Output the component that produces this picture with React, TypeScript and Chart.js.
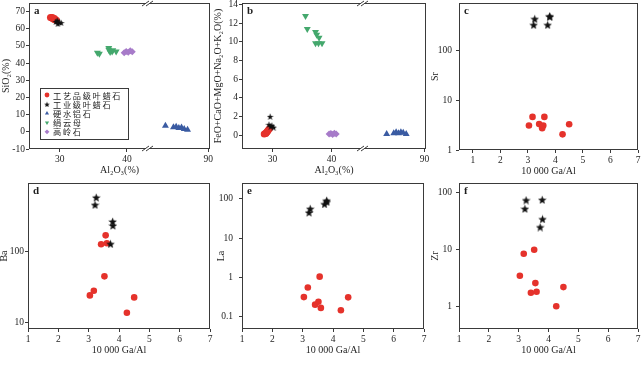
import React, { useEffect, useRef } from 'react';
import { Chart, registerables } from 'chart.js';
import { drawPoint } from 'chart.js/helpers';

Chart.register(...registerables);

// ---------------- text ----------------
const SERIES_NAMES = ['工艺品级叶蜡石', '工业级叶蜡石', '硬水铝石', '绢云母', '高岭石'];
const PANEL_LETTERS = ['a', 'b', 'c', 'd', 'e', 'f'];
const AL_TITLE = 'Al₂O₃(%)';
const SIO2_TITLE = 'SiO₂(%)';
const OX_TITLE = 'FeO+CaO+MgO+Na₂O+K₂O(%)';
const GA_TITLE = '10 000 Ga/Al';
const TRACE_TITLES = ['Sr', 'Ba', 'La', 'Zr'];

// ---------------- ticks ----------------
const AL_TICKS_LOW = [30, 40];
const AL_TICKS_HIGH = [90];
const SIO2_TICKS = [-10, 0, 10, 20, 30, 40, 50, 60, 70];
const OX_TICKS = [0, 2, 4, 6, 8, 10, 12, 14];
const GA_TICKS = [1, 2, 3, 4, 5, 6, 7];
const SR_TICKS = [1, 10, 100];
const BA_TICKS = [10, 100];
const LA_TICKS = [0.1, 1, 10, 100];
const ZR_TICKS = [1, 10, 100];

// ---------------- major elements (panels a, b) ----------------
const AL_CRAFT = [28.6, 28.8, 28.9, 29.0, 29.1, 29.2, 29.3, 29.5];
const SIO2_CRAFT = [66.5, 66.2, 66.6, 65.9, 65.5, 66.0, 65.2, 64.9];
const OX_CRAFT = [0.1, 0.15, 0.2, 0.3, 0.35, 0.45, 0.55, 0.7];

const AL_IND = [29.4, 29.6, 29.7, 29.9, 30.2];
const SIO2_IND = [64.2, 65.0, 63.0, 64.0, 63.6];
const OX_IND = [1.15, 2.0, 0.95, 1.05, 0.85];

const AL_DIA = [83.6, 84.8, 85.2, 85.6, 86.0, 86.4, 86.9];
const SIO2_DIA = [3.6, 2.6, 3.0, 2.2, 2.5, 1.6, 1.2];
const OX_DIA = [0.1, 0.2, 0.3, 0.2, 0.3, 0.25, 0.1];

const AL_SER = [35.6, 35.9, 37.3, 37.3, 37.5, 37.8, 37.9, 38.4];
const SIO2_SER = [46.0, 45.5, 48.8, 47.8, 46.5, 46.8, 47.5, 46.8];
const OX_SER = [12.75, 11.36, 11.04, 9.83, 10.75, 9.83, 10.43, 9.83];

const AL_KAO = [39.6, 39.9, 40.2, 40.5, 40.8];
const SIO2_KAO = [46.0, 46.8, 46.3, 47.2, 46.6];
const OX_KAO = [0.1, 0.15, 0.05, 0.2, 0.1];

// ---------------- trace elements (panels c-f) ----------------
const GA_CRAFT = [3.04, 3.17, 3.41, 3.52, 3.56, 3.6, 4.26, 4.5];
const SR_CRAFT = [3.1, 4.6, 3.3, 2.72, 3.08, 4.6, 2.06, 3.27];
const BA_CRAFT = [24, 27.9, 126, 44.5, 168, 130, 13.7, 22.5];
const LA_CRAFT = [0.32, 0.56, 0.206, 0.245, 1.06, 0.17, 0.148, 0.316];
const ZR_CRAFT = [3.48, 8.5, 1.74, 10, 2.58, 1.82, 1.01, 2.19];

const GA_IND = [3.21, 3.25, 3.72, 3.79, 3.8];
const SR_IND = [322, 425, 322, 481, 470];
const BA_IND = [454, 577, 128, 264, 232];
const LA_IND = [45.8, 56.8, 74.6, 92.5, 85];
const ZR_IND = [52.9, 75.2, 25.1, 76.3, 34.8];

// ---------------- style ----------------
const SERIF = '"Liberation Serif", "Times New Roman", serif';
const CJK = '"Noto Sans CJK SC", sans-serif';
const TEXT = '#1e1e1e';
const AXIS = '#3a3a3a';
const RED = '#e5322b';
const BLACK = '#111111';
const BLUE = '#3a5ba2';
const GREEN = '#44a86d';
const PURPLE = '#a77bc9';

const W = 643;
const H = 389;
const X_AXIS_H = 27;

type Rect = { L: number; T: number; R: number; B: number; yw: number; tickPad: number; titlePad: number };

const RECTS: Rect[] = [
  { L: 29, T: 3, R: 210, B: 149, yw: 29, tickPad: 1, titlePad: 0 },
  { L: 242, T: 3, R: 426, B: 149, yw: 30, tickPad: 1, titlePad: 0 },
  { L: 459, T: 3, R: 638, B: 150, yw: 30, tickPad: 4, titlePad: 0 },
  { L: 28, T: 183, R: 210, B: 329, yw: 28, tickPad: 1, titlePad: -2 },
  { L: 242, T: 183, R: 424, B: 329, yw: 27, tickPad: 6, titlePad: 0 },
  { L: 459, T: 183, R: 638, B: 329, yw: 30, tickPad: 4, titlePad: 0 },
];

function makeStar(size: number, color: string) {
  const c = document.createElement('canvas');
  c.width = size;
  c.height = size;
  const ctx = c.getContext('2d')!;
  const R = size / 2;
  const r = R * 0.42;
  ctx.beginPath();
  for (let i = 0; i < 10; i++) {
    const ang = -Math.PI / 2 + (i * Math.PI) / 5;
    const rad = i % 2 === 0 ? R : r;
    ctx.lineTo(R + rad * Math.cos(ang), R + 0.6 + rad * Math.sin(ang));
  }
  ctx.closePath();
  ctx.fillStyle = color;
  ctx.fill();
  return c;
}

const pts = (xs: number[], ys: number[]) => xs.map((x, i) => ({ x, y: ys[i] }));
const fixedTicks = (vals: number[]) => (s: any) => {
  s.ticks = vals.map((value) => ({ value }));
};
const gridOpts = () => ({
  display: true,
  drawOnChartArea: false,
  drawTicks: true,
  tickLength: 3,
  color: AXIS,
  lineWidth: 1,
});
const tickOpts = (pad: number) => ({
  font: { family: SERIF, size: 9.5 },
  color: TEXT,
  padding: pad,
  maxRotation: 0,
  autoSkip: false,
  callback: (v: any) => String(v),
});

function yAxis(type: string, min: number, max: number, ticks: number[], title: string, r: Rect) {
  return {
    type,
    position: 'left',
    min,
    max,
    border: { display: false },
    grid: gridOpts(),
    ticks: tickOpts(r.tickPad),
    afterBuildTicks: fixedTicks(ticks),
    title: {
      display: true,
      text: title,
      font: { family: SERIF, size: 10 },
      color: TEXT,
      padding: { top: r.titlePad, bottom: 0 },
    },
    afterFit: (s: any) => {
      s.width = r.yw;
      s.paddingTop = 0;
      s.paddingBottom = 0;
    },
  };
}

function gaAxis(min: number) {
  return {
    type: 'linear',
    position: 'bottom',
    min,
    max: 7,
    border: { display: false },
    grid: gridOpts(),
    ticks: tickOpts(2),
    afterBuildTicks: fixedTicks(GA_TICKS),
    title: { display: true, text: GA_TITLE, font: { family: SERIF, size: 10 }, color: TEXT, padding: 0 },
    afterFit: (s: any) => {
      s.height = X_AXIS_H;
      s.paddingLeft = 0;
      s.paddingRight = 0;
    },
  };
}

function brokenAxes(minLo: number, maxLo: number, minHi: number, maxHi: number, wLo: number, wHi: number) {
  const seg = (min: number, max: number, w: number, ticks: number[]) => ({
    type: 'linear',
    position: 'bottom',
    stack: 'al',
    stackWeight: w,
    min,
    max,
    border: { display: false },
    grid: gridOpts(),
    ticks: tickOpts(2),
    afterBuildTicks: fixedTicks(ticks),
    afterFit: (s: any) => {
      s.height = 14;
      s.paddingLeft = 0;
      s.paddingRight = 0;
    },
  });
  return {
    x: seg(minLo, maxLo, wLo, AL_TICKS_LOW),
    x2: seg(minHi, maxHi, wHi, AL_TICKS_HIGH),
    xt: {
      type: 'linear',
      position: 'bottom',
      weight: 1,
      min: 0,
      max: 1,
      border: { display: false },
      grid: { display: false },
      ticks: { display: false },
      title: { display: true, text: AL_TITLE, font: { family: SERIF, size: 10 }, color: TEXT, padding: 0 },
      afterFit: (s: any) => {
        s.height = X_AXIS_H - 14;
        s.paddingLeft = 0;
        s.paddingRight = 0;
      },
    },
  };
}

function ds(label: string, data: any[], style: any, color: string, radius: number, extra: any = {}) {
  return {
    label,
    data,
    xAxisID: 'x',
    yAxisID: 'y',
    pointStyle: style,
    pointRadius: radius,
    pointHoverRadius: radius,
    backgroundColor: color,
    borderColor: color,
    borderWidth: 0,
    ...extra,
  };
}

const decoPlugin = {
  id: 'deco',
  afterDraw(chart: any, _args: any, opts: any) {
    const { ctx, chartArea: ca } = chart;
    ctx.save();
    // frame
    ctx.strokeStyle = AXIS;
    ctx.lineWidth = 1;
    ctx.strokeRect(Math.round(ca.left) + 0.5, Math.round(ca.top) + 0.5, Math.round(ca.width) - 1, Math.round(ca.height) - 1);
    // axis break marks
    if (opts.brk) {
      const bx = Math.round(chart.scales.x.right);
      [Math.round(ca.top) + 0.5, Math.round(ca.bottom) - 0.5].forEach((yy: number) => {
        ctx.fillStyle = '#ffffff';
        ctx.fillRect(bx - 2, yy - 1.5, 4, 3);
        ctx.strokeStyle = AXIS;
        ctx.beginPath();
        ctx.moveTo(bx - 6, yy + 2.5);
        ctx.lineTo(bx + 1, yy - 2.5);
        ctx.moveTo(bx - 2, yy + 2.5);
        ctx.lineTo(bx + 5, yy - 2.5);
        ctx.stroke();
      });
    }
    // panel letter
    ctx.fillStyle = TEXT;
    ctx.font = `bold 11px ${SERIF}`;
    ctx.textAlign = 'left';
    ctx.textBaseline = 'middle';
    ctx.fillText(opts.letter, ca.left + 5, ca.top + 8);
    // legend
    if (opts.legend) {
      const lg = opts.legend;
      ctx.fillStyle = '#ffffff';
      ctx.fillRect(lg.x, lg.y, lg.w, lg.h);
      ctx.strokeStyle = AXIS;
      ctx.strokeRect(lg.x + 0.5, lg.y + 0.5, lg.w, lg.h);
      const smallStar = makeStar(6, BLACK);
      chart.data.datasets.forEach((d: any, i: number) => {
        const cy = lg.y + lg.first + i * lg.rowH;
        ctx.fillStyle = d.backgroundColor;
        const style = typeof d.pointStyle === 'string' ? d.pointStyle : smallStar;
        drawPoint(ctx, { pointStyle: style, rotation: d.pointRotation || 0, radius: 2.4, borderWidth: 0 }, lg.x + lg.markerDX, cy);
        ctx.fillStyle = TEXT;
        ctx.font = `8.2px ${CJK}`;
        ctx.textAlign = 'left';
        ctx.textBaseline = 'middle';
        if ('letterSpacing' in ctx) (ctx as any).letterSpacing = '1.7px';
        ctx.fillText(d.label, lg.x + lg.textDX, cy + 0.5);
        if ('letterSpacing' in ctx) (ctx as any).letterSpacing = '0px';
      });
    }
    ctx.restore();
  },
};

function baseOptions(r: Rect, scales: any, deco: any) {
  return {
    responsive: false,
    animation: false,
    devicePixelRatio: 1,
    events: [],
    layout: {
      autoPadding: false,
      padding: { left: r.L - r.yw, top: r.T, right: W - r.R, bottom: H - r.B - X_AXIS_H },
    },
    plugins: { legend: { display: false }, tooltip: { enabled: false }, deco },
    scales,
  };
}

function buildConfigs() {
  const starBig = makeStar(9, BLACK);
  const starSmall = makeStar(7, BLACK);
  const configs: any[] = [];

  // panel a
  {
    const r = RECTS[0];
    const datasets = [
      ds(SERIES_NAMES[0], pts(AL_CRAFT, SIO2_CRAFT), 'circle', RED, 3.5, { order: 1 }),
      ds(SERIES_NAMES[1], pts(AL_IND, SIO2_IND), starSmall, BLACK, 3.5, { order: 0 }),
      ds(SERIES_NAMES[2], pts(AL_DIA, SIO2_DIA), 'triangle', BLUE, 4, { xAxisID: 'x2', order: 2 }),
      ds(SERIES_NAMES[3], pts(AL_SER, SIO2_SER), 'triangle', GREEN, 4, { pointRotation: 180, order: 2 }),
      ds(SERIES_NAMES[4], pts(AL_KAO, SIO2_KAO), 'rectRot', PURPLE, 3.5, { order: 2 }),
    ];
    const scales = {
      ...brokenAxes(25.4, 43.15, 81.0, 90.25, 119, 62),
      y: yAxis('linear', -10, 75, SIO2_TICKS, SIO2_TITLE, r),
    };
    configs.push({
      type: 'scatter',
      data: { datasets },
      options: baseOptions(r, scales, {
        letter: PANEL_LETTERS[0],
        brk: true,
        legend: { x: 40, y: 88, w: 88, h: 51, first: 7, rowH: 9.2, markerDX: 7, textDX: 13 },
      }),
      plugins: [decoPlugin],
    });
  }

  // panel b
  {
    const r = RECTS[1];
    const datasets = [
      ds(SERIES_NAMES[0], pts(AL_CRAFT, OX_CRAFT), 'circle', RED, 3.5, { order: 1 }),
      ds(SERIES_NAMES[1], pts(AL_IND, OX_IND), starSmall, BLACK, 3.5, { order: 0 }),
      ds(SERIES_NAMES[2], pts(AL_DIA, OX_DIA), 'triangle', BLUE, 4, { xAxisID: 'x2', order: 2 }),
      ds(SERIES_NAMES[3], pts(AL_SER, OX_SER), 'triangle', GREEN, 4, { pointRotation: 180, order: 2 }),
      ds(SERIES_NAMES[4], pts(AL_KAO, OX_KAO), 'rectRot', PURPLE, 3.5, { order: 2 }),
    ];
    const scales = {
      ...brokenAxes(24.83, 45.4, 79.65, 90.25, 121.3, 62.7),
      y: yAxis('linear', -1.5, 14.15, OX_TICKS, OX_TITLE, r),
    };
    configs.push({
      type: 'scatter',
      data: { datasets },
      options: baseOptions(r, scales, { letter: PANEL_LETTERS[1], brk: true }),
      plugins: [decoPlugin],
    });
  }

  // panels c-f
  const trace = [
    { craft: SR_CRAFT, ind: SR_IND, ticks: SR_TICKS, min: 1, max: 880, xmin: 0.5 },
    { craft: BA_CRAFT, ind: BA_IND, ticks: BA_TICKS, min: 8.07, max: 918, xmin: 1 },
    { craft: LA_CRAFT, ind: LA_IND, ticks: LA_TICKS, min: 0.0495, max: 255, xmin: 1 },
    { craft: ZR_CRAFT, ind: ZR_IND, ticks: ZR_TICKS, min: 0.4, max: 150, xmin: 1 },
  ];
  trace.forEach((t, k) => {
    const r = RECTS[k + 2];
    const datasets = [
      ds(SERIES_NAMES[0], pts(GA_CRAFT, t.craft), 'circle', RED, 3.3, { order: 1 }),
      ds(SERIES_NAMES[1], pts(GA_IND, t.ind), starBig, BLACK, 4.5, { order: 0 }),
    ];
    const scales = {
      x: gaAxis(t.xmin),
      y: yAxis('logarithmic', t.min, t.max, t.ticks, TRACE_TITLES[k], r),
    };
    configs.push({
      type: 'scatter',
      data: { datasets },
      options: baseOptions(r, scales, { letter: PANEL_LETTERS[k + 2], brk: false }),
      plugins: [decoPlugin],
    });
  });

  return configs;
}

export default function App() {
  const r0 = useRef<HTMLCanvasElement>(null);
  const r1 = useRef<HTMLCanvasElement>(null);
  const r2 = useRef<HTMLCanvasElement>(null);
  const r3 = useRef<HTMLCanvasElement>(null);
  const r4 = useRef<HTMLCanvasElement>(null);
  const r5 = useRef<HTMLCanvasElement>(null);
  const refs = [r0, r1, r2, r3, r4, r5];

  useEffect(() => {
    Chart.defaults.font.family = SERIF;
    const configs = buildConfigs();
    const charts = configs.map((cfg, i) => new Chart(refs[i].current as HTMLCanvasElement, cfg));
    return () => charts.forEach((c) => c.destroy());
  }, []);

  return (
    <div style={{ position: 'absolute', left: 0, top: 0, width: W, height: H, background: '#ffffff', overflow: 'hidden' }}>
      {refs.map((r, i) => (
        <canvas key={i} ref={r} width={W} height={H} style={{ position: 'absolute', left: 0, top: 0 }} />
      ))}
    </div>
  );
}
